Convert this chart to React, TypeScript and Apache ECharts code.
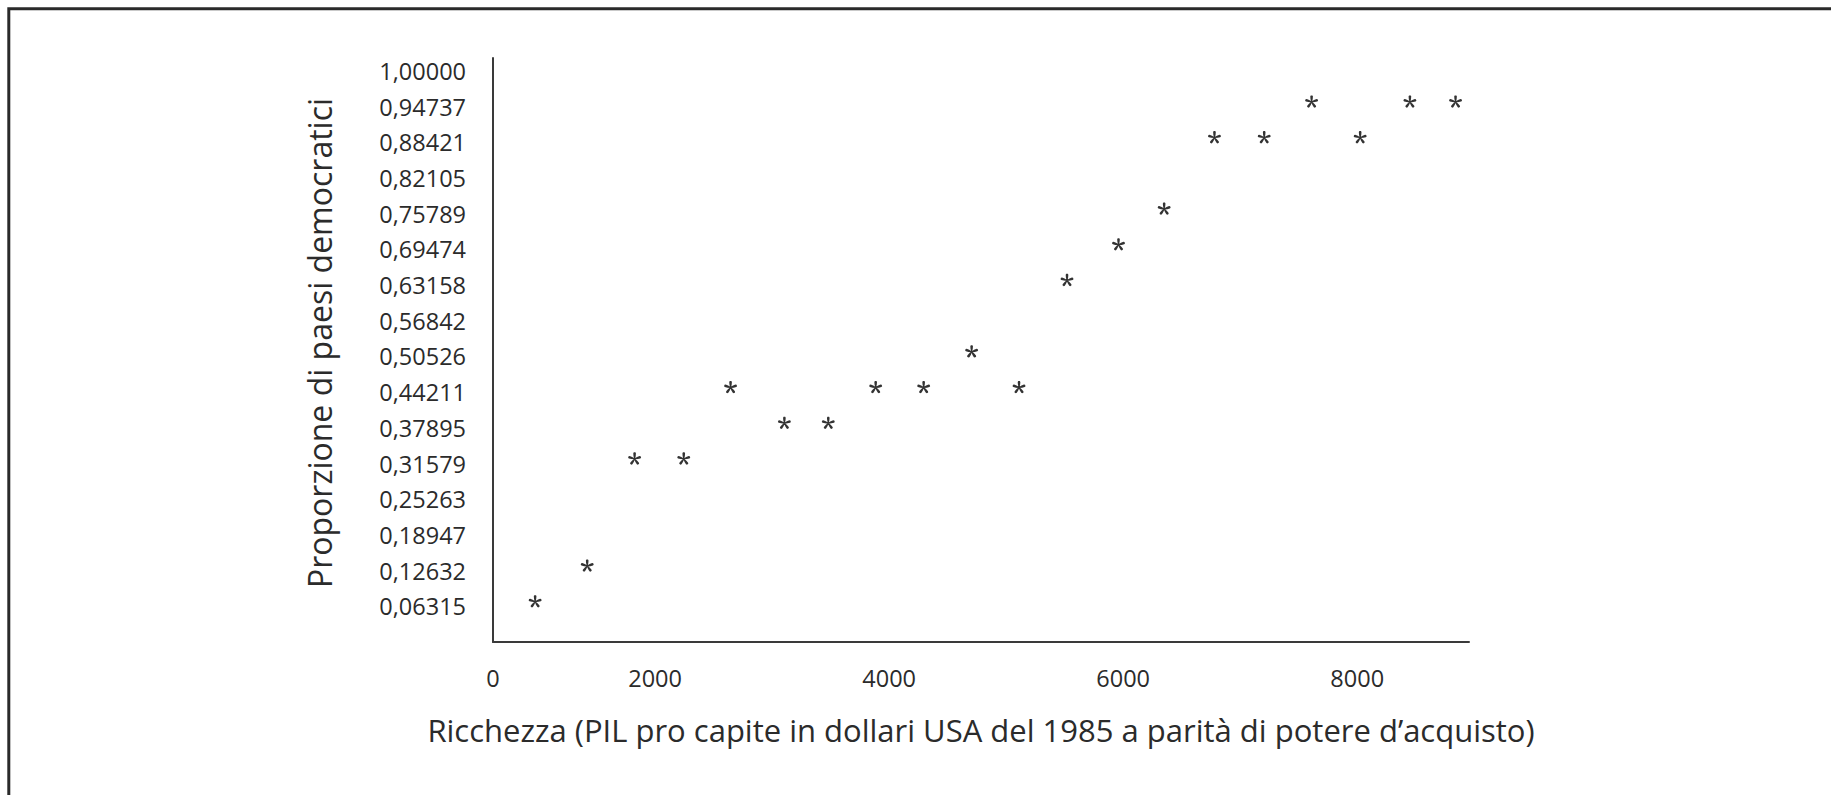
import React, { useEffect, useRef } from "react";
import * as echarts from "echarts";

// ---- data ----
const gdpPerCapita = [975, 1420, 1825, 2245, 2645, 3105, 3480, 3885, 4295, 4705, 5110, 5520, 5960, 6350, 6780, 7205, 7610, 8025, 8450, 8840];
const democraticShare = [0.06315, 0.12632, 0.31579, 0.31579, 0.44211, 0.37895, 0.37895, 0.44211, 0.44211, 0.50526, 0.44211, 0.63158, 0.69474, 0.75789, 0.88421, 0.88421, 0.94737, 0.88421, 0.94737, 0.94737];

const yTickValues = [0.06315, 0.12632, 0.18947, 0.25263, 0.31579, 0.37895, 0.44211, 0.50526, 0.56842, 0.63158, 0.69474, 0.75789, 0.82105, 0.88421, 0.94737, 1.01053];
const yTickLabels = ["0,06315", "0,12632", "0,18947", "0,25263", "0,31579", "0,37895", "0,44211", "0,50526", "0,56842", "0,63158", "0,69474", "0,75789", "0,82105", "0,88421", "0,94737", "1,00000"];

const xTickValues = [615, 2000, 4000, 6000, 8000];
const xTickLabels = ["0", "2000", "4000", "6000", "8000"];

const xTitle = "Ricchezza (PIL pro capite in dollari USA del 1985 a parità di potere d’acquisto)";
const yTitle = "Proporzione di paesi democratici";

// five-armed asterisk glyph used as the marker
function asteriskPath(): string {
  const parts: string[] = [];
  for (let i = 0; i < 5; i++) {
    const a = -Math.PI / 2 + (i * 2 * Math.PI) / 5;
    const ux = Math.cos(a), uy = Math.sin(a);
    const nx = -uy, ny = ux;
    const pt = (along: number, perp: number) =>
      `${(100 + ux * along * 100 + nx * perp * 100).toFixed(2)} ${(100 + uy * along * 100 + ny * perp * 100).toFixed(2)}`;
    parts.push(
      `M${pt(0, 0.07)} L${pt(0.45, 0.17)} L${pt(0.85, 0.2)} L${pt(1, 0.12)} L${pt(1, -0.12)} L${pt(0.85, -0.2)} L${pt(0.45, -0.17)} L${pt(0, -0.07)} Z`
    );
  }
  return "path://" + parts.join(" ");
}

const FONT = "'Open Sans', 'Noto Sans', sans-serif";
const TEXT = "#2b2b2b";

export default function App() {
  const ref = useRef<HTMLDivElement>(null);

  useEffect(() => {
    document.body.style.margin = "0";
    if (!ref.current) return;
    const chart = echarts.init(ref.current, null, { renderer: "svg" });

    const lookup = (values: number[], labels: string[]) => (v: number) => {
      const i = values.findIndex((t) => Math.abs(t - v) < 1e-4);
      return i >= 0 ? labels[i] : "";
    };

    chart.setOption({
      animation: false,
      backgroundColor: "#ffffff",
      grid: { left: 493, right: 362, top: 58, bottom: 153, containLabel: false },
      graphic: [
        {
          type: "rect",
          silent: true,
          shape: { x: 8.8, y: 8.8, width: 1900, height: 900 },
          style: { fill: "none", stroke: "#2a2a2a", lineWidth: 3 },
        },
      ],
      xAxis: {
        type: "value",
        min: 615,
        max: 8955,
        name: xTitle,
        nameLocation: "middle",
        nameGap: 72,
        nameTextStyle: { fontFamily: FONT, fontSize: 31, color: TEXT },
        axisLine: { show: true, onZero: false, lineStyle: { color: "#3a3a3a", width: 2 } },
        axisTick: { show: false },
        splitLine: { show: false },
        axisLabel: {
          customValues: xTickValues,
          formatter: lookup(xTickValues, xTickLabels),
          fontFamily: FONT,
          fontSize: 23.5,
          color: TEXT,
          margin: 24,
        },
      },
      yAxis: {
        type: "value",
        min: 0,
        max: 1.0333,
        name: yTitle,
        nameLocation: "middle",
        nameGap: 158,
        nameTextStyle: { fontFamily: FONT, fontSize: 32, color: TEXT, padding: [0, 0, 0, 14] },
        axisLine: { show: true, onZero: false, lineStyle: { color: "#3a3a3a", width: 2 } },
        axisTick: { show: false },
        splitLine: { show: false },
        axisLabel: {
          customValues: yTickValues,
          formatter: lookup(yTickValues, yTickLabels),
          fontFamily: FONT,
          fontSize: 23.5,
          color: TEXT,
          margin: 27,
        },
      },
      series: [
        {
          type: "scatter",
          data: gdpPerCapita.map((x, i) => [x, democraticShare[i]]),
          symbol: asteriskPath(),
          symbolKeepAspect: true,
          symbolSize: 13,
          symbolOffset: [0, -5],
          itemStyle: { color: "#333333", opacity: 1 },
        },
      ],
    });

    return () => chart.dispose();
  }, []);

  return <div ref={ref} style={{ width: 1831, height: 795 }} />;
}
